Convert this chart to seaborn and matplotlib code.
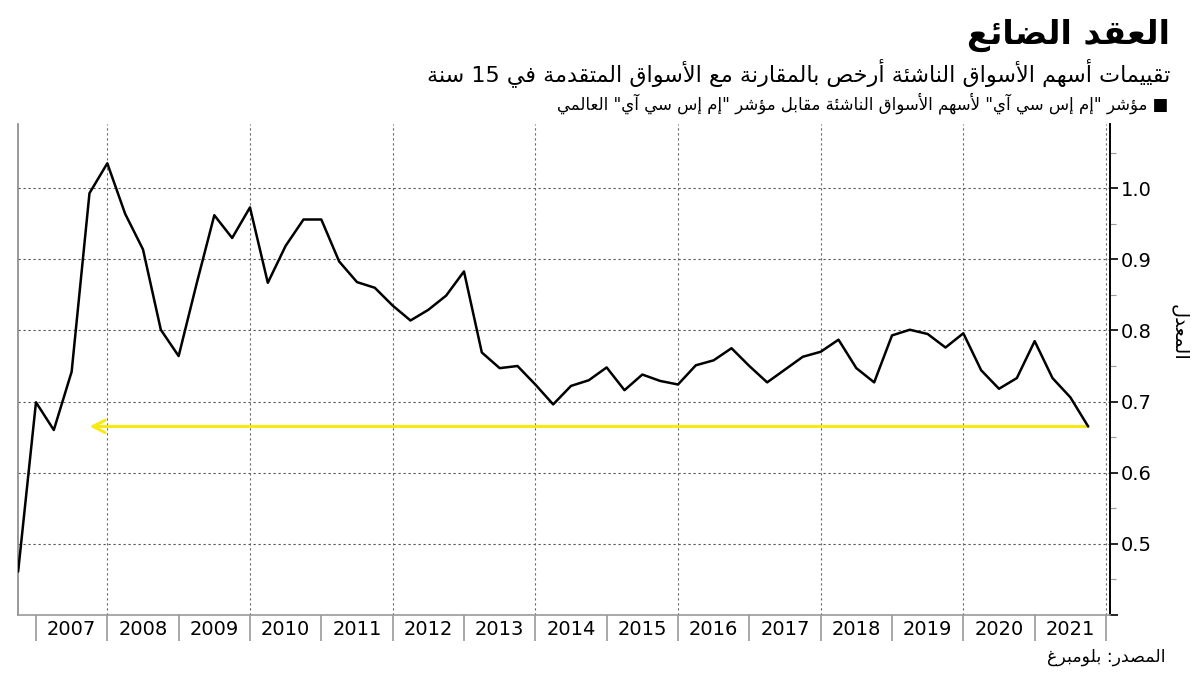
import re
import numpy as np
import pandas as pd
import matplotlib
matplotlib.use("Agg")
import matplotlib.pyplot as plt
import seaborn as sns

# Data (quarterly)
quarters = pd.period_range("2006Q4", "2021Q4", freq="Q")
ratio = [
    0.461, 0.699, 0.660, 0.742, 0.993, 1.035, 0.964, 0.914, 0.801, 0.764,
    0.865, 0.962, 0.930, 0.973, 0.867, 0.919, 0.956, 0.956, 0.897, 0.868,
    0.860, 0.835, 0.814, 0.829, 0.849, 0.883, 0.769, 0.747, 0.750, 0.724,
    0.696, 0.722, 0.730, 0.748, 0.716, 0.738, 0.729, 0.724, 0.751, 0.758,
    0.775, 0.750, 0.727, 0.745, 0.763, 0.770, 0.787, 0.747, 0.727, 0.793,
    0.801, 0.795, 0.776, 0.796, 0.744, 0.718, 0.733, 0.785, 0.733, 0.706,
    0.665,
]
year_ticks = list(range(2007, 2023))
year_labels = [str(y) for y in range(2007, 2022)]
grid_years = list(range(2008, 2023, 2))
y_major = [0.4, 0.5, 0.6, 0.7, 0.8, 0.9, 1.0]
y_labels = ["", "0.5", "0.6", "0.7", "0.8", "0.9", "1.0"]
y_minor = [0.45, 0.55, 0.65, 0.75, 0.85, 0.95, 1.05]

title = "العقد الضائع"
subtitle = "تقييمات أسهم الأسواق الناشئة أرخص بالمقارنة مع الأسواق المتقدمة في 15 سنة"
legend_text = '■ مؤشر "إم إس سي آي" لأسهم الأسواق الناشئة مقابل مؤشر "إم إس سي آي" العالمي'
y_title = "المعدل"
source = "المصدر: بلومبرغ"

# Minimal Arabic shaping (matplotlib does no shaping / bidi)
DUAL = {"ئ": 0xFE89, "ب": 0xFE8F, "ت": 0xFE95, "ث": 0xFE99, "ج": 0xFE9D,
        "ح": 0xFEA1, "خ": 0xFEA5, "س": 0xFEB1, "ش": 0xFEB5, "ص": 0xFEB9,
        "ض": 0xFEBD, "ط": 0xFEC1, "ظ": 0xFEC5, "ع": 0xFEC9, "غ": 0xFECD,
        "ف": 0xFED1, "ق": 0xFED5, "ك": 0xFED9, "ل": 0xFEDD, "م": 0xFEE1,
        "ن": 0xFEE5, "ه": 0xFEE9, "ي": 0xFEF1}
RIGHT = {"آ": 0xFE81, "أ": 0xFE83, "ؤ": 0xFE85, "إ": 0xFE87, "ا": 0xFE8D,
         "ة": 0xFE93, "د": 0xFEA9, "ذ": 0xFEAB, "ر": 0xFEAD, "ز": 0xFEAF,
         "و": 0xFEED, "ى": 0xFEEF}
LAM_ALEF = {"آ": 0xFEF5, "أ": 0xFEF7, "إ": 0xFEF9, "ا": 0xFEFB}


def shape(text):
    out = []
    i = 0
    while i < len(text):
        c = text[i]
        prev = text[i - 1] if i > 0 else ""
        nxt = text[i + 1] if i + 1 < len(text) else ""
        joins_prev = prev in DUAL and (c in DUAL or c in RIGHT)
        if c == "ل" and nxt in LAM_ALEF:
            out.append(chr(LAM_ALEF[nxt] + (1 if joins_prev else 0)))
            i += 2
            continue
        if c in DUAL:
            joins_next = nxt in DUAL or nxt in RIGHT
            base = DUAL[c]
            if joins_prev and joins_next:
                out.append(chr(base + 3))
            elif joins_prev:
                out.append(chr(base + 1))
            elif joins_next:
                out.append(chr(base + 2))
            else:
                out.append(chr(base))
        elif c in RIGHT:
            out.append(chr(RIGHT[c] + (1 if joins_prev else 0)))
        elif c == "ء":
            out.append(chr(0xFE80))
        else:
            out.append(c)
        i += 1
    return "".join(out)


def rtl(text):
    vis = shape(text)[::-1]
    return re.sub(r"[0-9.]+", lambda m: m.group(0)[::-1], vis)


sns.set_style("white")
plt.rcParams["font.family"] = ["DejaVu Sans"]
plt.rcParams["text.color"] = "black"
plt.rcParams["xtick.labelcolor"] = "black"
plt.rcParams["ytick.labelcolor"] = "black"

df = pd.DataFrame({
    "t": [q.year + (q.quarter - 1) / 4 for q in quarters],
    "ratio": ratio,
})

fig = plt.figure(figsize=(12, 6.75), dpi=100)
ax = fig.add_axes([0.015, 0.089, 0.91, 0.727])

for yv in y_major[1:]:
    ax.axhline(yv, color="#555555", lw=0.8, ls=(0, (2, 2.5)), zorder=0)
for gy in grid_years:
    ax.axvline(gy, color="#666666", lw=0.8, ls=(0, (2, 2.5)), zorder=0)

sns.lineplot(data=df, x="t", y="ratio", color="black", lw=1.8, ax=ax, zorder=3)

last_t, last_v = df["t"].iloc[-1], df["ratio"].iloc[-1]
ax.annotate("", xy=(df["t"].iloc[4], last_v), xytext=(last_t, last_v),
            arrowprops=dict(arrowstyle="->", color="#f5ea14", lw=2.2,
                            mutation_scale=22, shrinkA=0, shrinkB=0),
            zorder=2)

ax.set_xlim(2006.748, 2022.056)
ax.set_ylim(0.4, 1.09)

ax.set_xticks(year_ticks)
ax.set_xticklabels([""] * len(year_ticks))
ax.set_xticks([y + 0.5 for y in range(2007, 2022)], minor=True)
ax.set_xticklabels(year_labels, minor=True, fontsize=14)
ax.tick_params(axis="x", which="major", length=19, width=1.2, color="#999999",
               direction="out", bottom=True)
ax.tick_params(axis="x", which="minor", length=0, pad=4, labelcolor="black")

ax.yaxis.tick_right()
ax.set_yticks(y_major)
ax.set_yticklabels(y_labels, fontsize=14)
ax.set_yticks(y_minor, minor=True)
ax.tick_params(axis="y", which="major", length=6, width=1.2, color="black",
               direction="out", right=True, left=False, pad=2,
               labelcolor="black")
ax.tick_params(axis="y", which="minor", length=4, width=0.8, color="#999999",
               direction="out", right=True, left=False)
ax.set_xlabel("")
ax.set_ylabel("")

ax.spines["top"].set_visible(False)
ax.spines["left"].set_color("#888888")
ax.spines["left"].set_linewidth(1.2)
ax.spines["bottom"].set_color("#999999")
ax.spines["bottom"].set_linewidth(1.2)
ax.spines["right"].set_color("black")
ax.spines["right"].set_linewidth(1.4)

fig.text(0.975, 0.948, rtl(title), ha="right", va="center", fontsize=24,
         fontweight="bold", color="black")
fig.text(0.975, 0.893, rtl(subtitle), ha="right", va="center", fontsize=16,
         color="black")
fig.text(0.974, 0.847, rtl(legend_text), ha="right", va="center", fontsize=12,
         color="black")
fig.text(0.983, 0.508, rtl(y_title), ha="center", va="center", fontsize=14,
         rotation=270, color="black")
fig.text(0.971, 0.027, rtl(source), ha="right", va="center", fontsize=12.5,
         color="black")

fig.savefig("out.png", dpi=100)
